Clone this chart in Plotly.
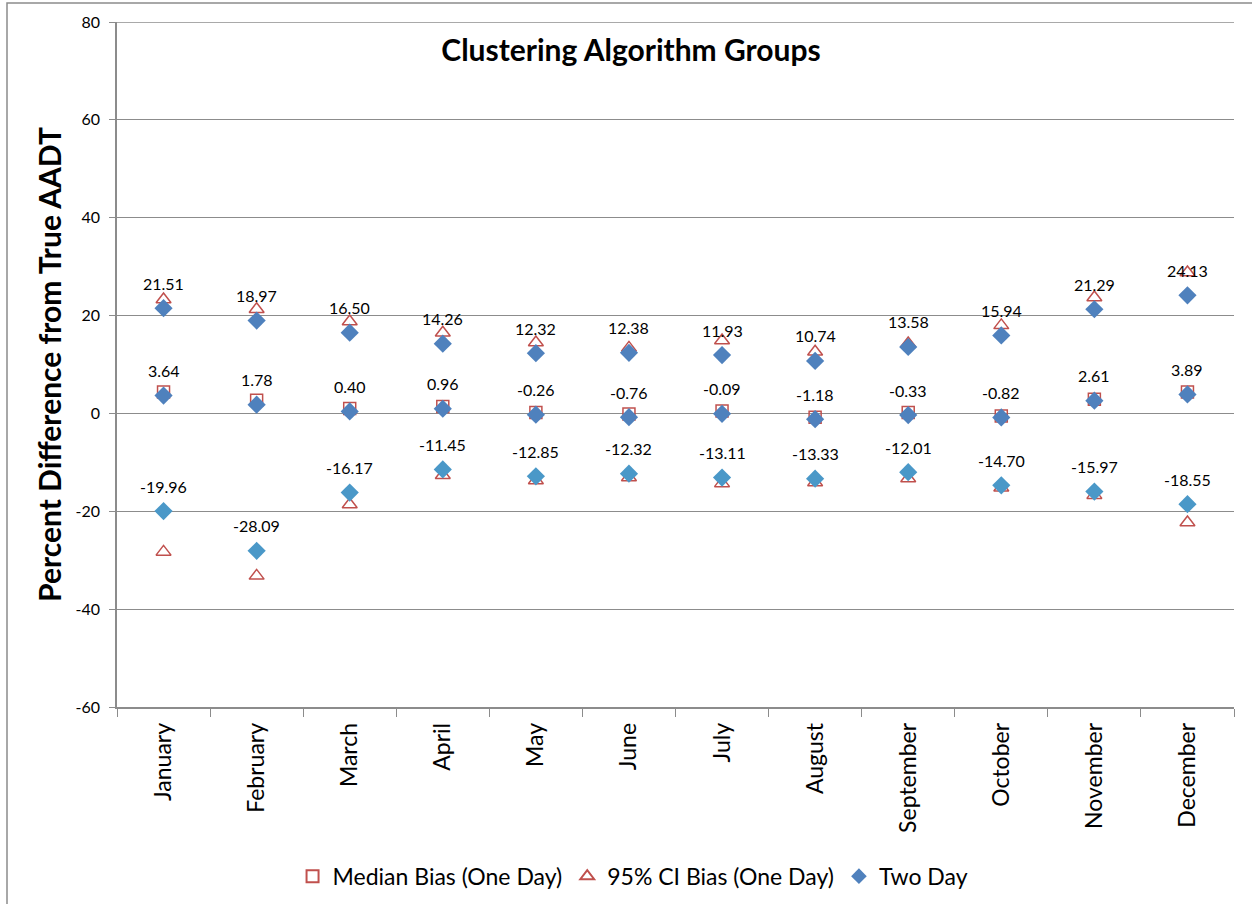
import plotly.graph_objects as go

months = ["January", "February", "March", "April", "May", "June", "July",
          "August", "September", "October", "November", "December"]

# One day series
median_one_day = [4.4, 2.7, 1.0, 1.4, 0.2, -0.1, 0.5, -0.8, 0.2, -0.5, 2.9, 4.4]
ci_upper_one_day = [23.3, 21.3, 18.8, 16.5, 14.5, 13.4, 14.9, 12.6, 14.3, 18.0, 23.7, 28.8]
ci_lower_one_day = [-28.3, -33.2, -18.6, -12.65, -13.7, -13.1, -14.3, -14.1, -13.3, -15.2, -16.7, -22.3]

# Two day series (labelled values)
two_day_upper = [21.51, 18.97, 16.50, 14.26, 12.32, 12.38, 11.93, 10.74, 13.58, 15.94, 21.29, 24.13]
two_day_median = [3.64, 1.78, 0.40, 0.96, -0.26, -0.76, -0.09, -1.18, -0.33, -0.82, 2.61, 3.89]
two_day_lower = [-19.96, -28.09, -16.17, -11.45, -12.85, -12.32, -13.11, -13.33, -12.01, -14.70, -15.97, -18.55]

y_ticks = [-60, -40, -20, 0, 20, 40, 60, 80]

RED = "#C0504D"
BLUE = "#4F81BD"
TEAL = "#4A98C8"
GRID = "#8C8C8C"
FONT = "Lato"

fig = go.Figure()

fig.add_trace(go.Scatter(
    x=months, y=median_one_day, mode="markers", name="Median Bias (One Day)",
    marker=dict(symbol="square-open", size=12, color=RED, line=dict(width=1.5, color=RED)),
))
fig.add_trace(go.Scatter(
    x=months + months, y=ci_upper_one_day + ci_lower_one_day, mode="markers",
    name="95% CI Bias (One Day)",
    marker=dict(symbol="triangle-up-open", size=13, color=RED, line=dict(width=1.5, color=RED)),
))
fig.add_trace(go.Scatter(
    x=months + months, y=two_day_upper + two_day_median, mode="markers", name="Two Day",
    marker=dict(symbol="diamond", size=14, color=BLUE),
))
fig.add_trace(go.Scatter(
    x=months, y=two_day_lower, mode="markers", name="Two Day lower", showlegend=False,
    marker=dict(symbol="diamond", size=14, color=TEAL),
))

annotations = []
for series in (two_day_upper, two_day_median, two_day_lower):
    for m, v in zip(months, series):
        annotations.append(dict(
            x=m, y=v, xref="x", yref="y", text=f"{v:.2f}", showarrow=False,
            yshift=25, font=dict(family=FONT, size=16, color="#000000"),
        ))

fig.update_layout(
    width=1252, height=904,
    paper_bgcolor="white", plot_bgcolor="rgba(0,0,0,0)",
    margin=dict(l=117, r=18, t=22, b=197, autoexpand=False),
    font=dict(family=FONT, color="#000000"),
    title=dict(text="<b>Clustering Algorithm Groups</b>", x=0.504, xref="container",
               xanchor="center", y=1 - 50 / 904, yref="container", yanchor="middle",
               font=dict(size=30, family=FONT, color="#000000")),
    annotations=annotations,
    showlegend=True,
    legend=dict(orientation="h", x=0.462, xanchor="center", y=-0.247, yanchor="middle",
                font=dict(size=23, family=FONT, color="#000000"),
                itemsizing="constant", traceorder="normal", itemwidth=30),
    shapes=[
        dict(type="rect", xref="paper", yref="paper",
             x0=(7 - 117) / 1117, x1=(1300 - 117) / 1117,
             y0=-0.5, y1=(707 - 3) / 685,
             line=dict(color="#8C8C8C", width=1.5), fillcolor="rgba(0,0,0,0)", layer="above"),
        dict(type="line", xref="paper", yref="y", x0=0, x1=1,
             y0=y_ticks[-1], y1=y_ticks[-1], line=dict(color=GRID, width=1.5), layer="above"),
    ],
)

fig.update_xaxes(
    type="category", categoryorder="array", categoryarray=months,
    tickson="boundaries", ticks="outside", ticklen=8, tickcolor=GRID,
    showline=True, linecolor=GRID, linewidth=1.5, showgrid=False,
    tickangle=-90, tickfont=dict(size=23, family=FONT, color="#000000"),
    ticklabelstandoff=5,
    range=[-0.5, 11.5],
)
fig.update_yaxes(
    range=[-60, 80], tickvals=y_ticks, ticktext=[str(v) for v in y_ticks],
    ticks="outside", ticklen=6, tickcolor=GRID,
    showline=True, linecolor=GRID, linewidth=1.5,
    showgrid=True, gridcolor=GRID, gridwidth=1.3, zeroline=False,
    tickfont=dict(size=16, family=FONT, color="#000000"),
    ticklabelstandoff=6,
    title=dict(text="<b>Percent Difference from True AADT</b>",
               font=dict(size=30, family=FONT, color="#000000"), standoff=5),
)

fig.write_html("out.html", config={"displayModeBar": False},
               post_script="document.body.style.margin='0';")
